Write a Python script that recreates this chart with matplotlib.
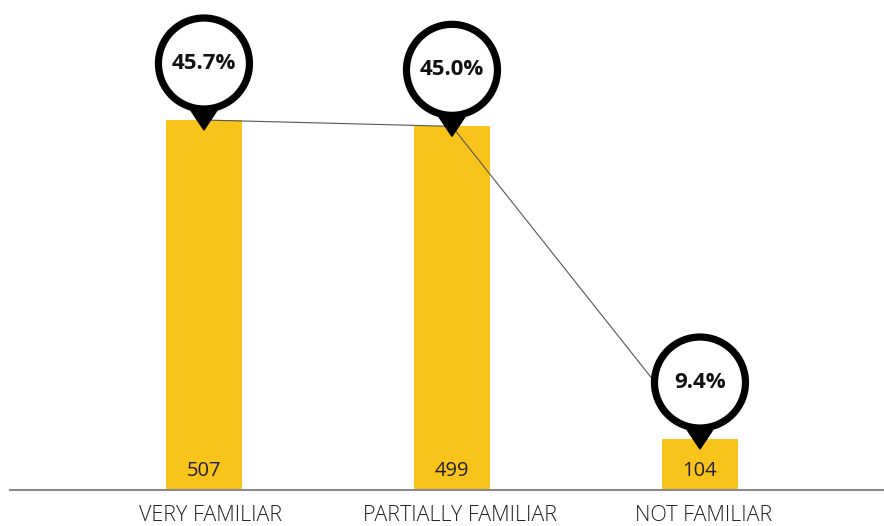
import matplotlib
matplotlib.use("Agg")
import matplotlib.pyplot as plt
from matplotlib.patches import Circle, Polygon
from matplotlib.transforms import ScaledTranslation

categories = ["VERY FAMILIAR", "PARTIALLY FAMILIAR", "NOT FAMILIAR"]
counts = [507, 499, 104]
shares = [45.7, 45.0, 9.4]

BAR_COLOR = "#F8C31A"
DPI = 100

fig = plt.figure(figsize=(8.84, 5.26), dpi=DPI)
ax = fig.add_axes([10 / 884, 36 / 526, 874 / 884, 490 / 526])

x = list(range(len(categories)))
ax.bar(x, counts, width=0.31, color=BAR_COLOR, zorder=2)
ax.set_xlim(-0.782, 2.742)
ax.set_ylim(39.6, 658.6)

# trend line through the bar tops
ax.plot(x, counts, color="#555555", lw=0.8, zorder=3)

# count labels inside the bars
for xi, c in zip(x, counts):
    t = ax.text(xi, 0.0, f"{c}", ha="center", va="center", fontsize=14.5,
                family="Open Sans", color="#222222", zorder=4)
    t.set_transform(ax.get_xaxis_transform() +
                    ScaledTranslation(0, 19 / DPI, fig.dpi_scale_trans))

# pin markers with the share labels
R_MID = 0.455   # circle radius to the middle of the stroke (inches)
CY = 0.565      # circle centre above bar top
TIP = -0.10     # tip below bar top
for xi, c, s in zip(x, counts, shares):
    tr = fig.dpi_scale_trans + ScaledTranslation(xi, c, ax.transData)
    tri = Polygon([(-0.19, CY - 0.38), (0.19, CY - 0.38), (0, TIP)],
                  closed=True, facecolor="black", edgecolor="black",
                  transform=tr, zorder=5, clip_on=False)
    circ = Circle((0, CY), R_MID, facecolor="white",
                  edgecolor="black", lw=5.2, transform=tr, zorder=6,
                  clip_on=False)
    ax.add_patch(tri)
    ax.add_patch(circ)
    ax.text(0, CY, f"{s:.1f}%", transform=tr, ha="center", va="center",
            fontsize=16, fontweight="bold", family="Open Sans",
            color="#111111", zorder=7)

for sp in ["top", "right", "left"]:
    ax.spines[sp].set_visible(False)
ax.spines["bottom"].set_color("#8a8a8a")
ax.spines["bottom"].set_linewidth(1.5)
ax.set_yticks([])
ax.set_xticks(x)
ax.set_xticklabels(categories, fontsize=15.5, family="Open Sans",
                   fontweight="light", color="#222222")
ax.tick_params(axis="x", length=0, pad=11)
for lab, dx in zip(ax.get_xticklabels(), [7, 8, 4]):
    lab.set_transform(lab.get_transform() +
                      ScaledTranslation(dx / DPI, 0, fig.dpi_scale_trans))

fig.savefig("out.png", dpi=DPI)
